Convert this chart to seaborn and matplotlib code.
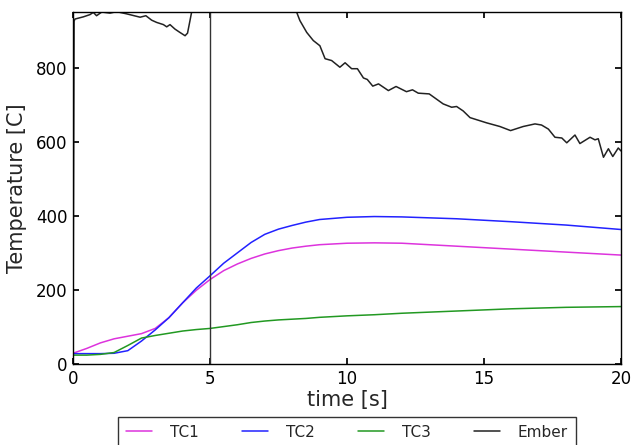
import numpy as np
import pandas as pd
import seaborn as sns
import matplotlib
matplotlib.use("Agg")
import matplotlib.pyplot as plt

# thermocouple readings (shared time base)
tc_time = [0, 0.5, 1.0, 1.5, 2.0, 2.5, 3.0, 3.5, 4.0, 4.5, 5.0, 5.5, 6.0,
           6.5, 7.0, 7.5, 8.0, 8.5, 9.0, 10, 11, 12, 14, 16, 18, 20]
tc1 = [29, 42, 57, 68, 75, 82, 96, 125, 165, 199, 228, 252, 270,
       285, 297, 306, 313, 318, 322, 326, 327, 326, 318, 310, 302, 294]
tc2 = [28, 28, 28, 29, 36, 62, 92, 125, 165, 205, 238, 272, 300,
       328, 350, 364, 374, 383, 390, 396, 398, 397, 392, 384, 375, 363]
tc3 = [24, 24, 26, 31, 50, 70, 77, 83, 89, 93, 96, 101, 106,
       112, 116, 119, 121, 123, 126, 130, 133, 137, 143, 149, 153, 155]

# ember temperature (own time base, goes off scale between ~4.4 s and ~8.1 s)
ember_time = [0, 0.04, 0.07, 0.38, 0.62, 0.74, 0.86, 1.05, 1.35, 1.59, 1.96,
              2.45, 2.66, 2.87, 3.05, 3.3, 3.42, 3.54, 3.72, 3.9, 4.09, 4.18,
              4.27, 4.33, 4.4, 8.1, 8.16, 8.28, 8.53, 8.77, 9.01, 9.2, 9.44,
              9.74, 9.93, 10.17, 10.38, 10.6, 10.74, 10.94, 11.15, 11.51,
              11.79, 12.17, 12.39, 12.6, 13.0, 13.51, 13.82, 14.0, 14.24,
              14.49, 15.09, 15.58, 15.97, 16.43, 16.86, 17.1, 17.35, 17.59,
              17.84, 18.02, 18.32, 18.5, 18.87, 19.05, 19.17, 19.36, 19.54,
              19.7, 19.9, 20.0]
ember = [25, 925, 931, 937, 943, 949, 940, 950, 947, 951, 945,
         936, 940, 928, 922, 916, 910, 916, 904, 895, 886, 893,
         927, 950, 1100, 1100, 950, 927, 895, 873, 859, 824, 819,
         801, 813, 797, 797, 772, 768, 750, 756, 738,
         749, 735, 740, 731, 729, 702, 693, 695, 683,
         665, 651, 641, 630, 641, 648, 645, 634, 612,
         610, 597, 618, 595, 612, 605, 608, 558, 581,
         560, 583, 575]

marker_time = 5

sns.set_theme(style="ticks", rc={
    "xtick.direction": "in", "ytick.direction": "in",
    "xtick.top": True, "ytick.right": True,
    "xtick.major.size": 4, "ytick.major.size": 4,
    "axes.edgecolor": "black", "axes.linewidth": 1.0,
    "xtick.color": "black", "ytick.color": "black",
})
plt.rcParams["font.family"] = ["DejaVu Sans"]

tc_df = pd.DataFrame({"time": tc_time, "TC1": tc1, "TC2": tc2, "TC3": tc3})
ember_df = pd.DataFrame({"time": ember_time, "Ember": ember})

fig = plt.figure(figsize=(6.32, 4.45), dpi=100)
ax = fig.add_axes([0.1155, 0.182, 0.8671, 0.791])

colors = {"TC1": "#dd33dd", "TC2": "#2222ff", "TC3": "#229922"}
for name in ["TC1", "TC2", "TC3"]:
    sns.lineplot(data=tc_df, x="time", y=name, ax=ax, color=colors[name],
                 linewidth=1.1, label=name)
sns.lineplot(data=ember_df, x="time", y="Ember", ax=ax, color="#222222",
             linewidth=1.1, label="Ember")
ax.axvline(marker_time, color="#333333", linewidth=1.0)

ax.set_xlim(0, 20)
ax.set_ylim(0, 950)
ax.set_xticks([0, 5, 10, 15, 20])
ax.set_yticks([0, 200, 400, 600, 800])
ax.tick_params(labelsize=12, pad=4)
ax.set_xlabel("time [s]", fontsize=15, labelpad=2)
ax.set_ylabel("Temperature [C]", fontsize=15, labelpad=6)

leg = ax.legend(loc="upper center", bbox_to_anchor=(0.5, -0.129), ncol=4,
                fontsize=11, frameon=True, fancybox=False, handlelength=1.7,
                handletextpad=1.2, columnspacing=2.8, borderpad=0.5)
leg.get_frame().set_edgecolor("black")
leg.get_frame().set_linewidth(1.0)

fig.savefig("out.png", dpi=100)
